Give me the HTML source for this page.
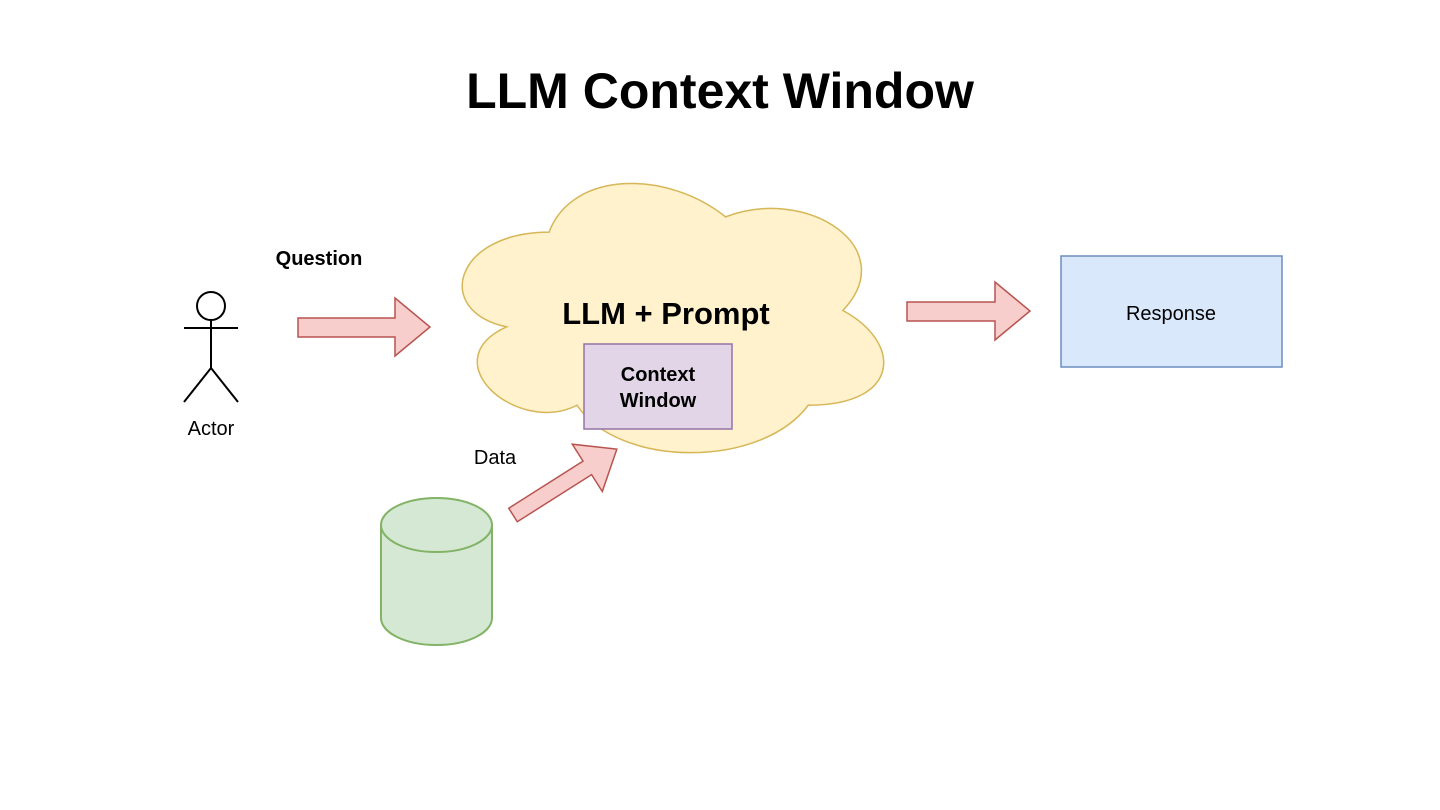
<!DOCTYPE html>
<html><head><meta charset="utf-8"><style>body{margin:0;background:#fff}svg{display:block}</style></head>
<body>
<svg width="1440" height="810" xmlns="http://www.w3.org/2000/svg" font-family="Liberation Sans, Arial, sans-serif">
<rect width="1440" height="810" fill="#fff"/>
<text x="720" y="108" font-size="50" font-weight="bold" text-anchor="middle">LLM Context Window</text>
<!-- actor -->
<g stroke="#000" stroke-width="2" fill="none">
<circle cx="211" cy="306" r="14" fill="#fff"/>
<line x1="211" y1="320" x2="211" y2="368"/>
<line x1="184" y1="328" x2="238" y2="328"/>
<line x1="211" y1="368" x2="184" y2="402"/>
<line x1="211" y1="368" x2="238" y2="402"/>
</g>
<text x="211" y="435" font-size="20" text-anchor="middle">Actor</text>
<text x="319" y="265" font-size="20" font-weight="bold" text-anchor="middle">Question</text>
<!-- arrow 1 -->
<path d="M298 318 L395 318 L395 298 L430 327 L395 356 L395 337 L298 337 Z" fill="#f8cecc" stroke="#b85450" stroke-width="1.5"/>
<!-- cloud -->
<path transform="translate(672.5 317.5) scale(1.117 1.17) translate(-677.5 -323)" vector-effect="non-scaling-stroke" d="M567 250 C483 250 462 317 529 331 C462 360 538 424 592 398 C630 452 757 452 799 398 C883 398 883 344 830 317 C883 264 799 210 725 237 C673 197 588 197 567 250 Z" fill="#fff2cc" stroke="#d6b656" stroke-width="1.5"/>
<text x="666" y="324" font-size="31" font-weight="bold" text-anchor="middle">LLM + Prompt</text>
<rect x="584" y="344" width="148" height="85" fill="#e1d5e7" stroke="#9673a6" stroke-width="1.5"/>
<text x="658" y="381" font-size="20" font-weight="bold" text-anchor="middle">Context</text>
<text x="658" y="407" font-size="20" font-weight="bold" text-anchor="middle">Window</text>
<!-- arrow 2 -->
<path d="M907 302 L995 302 L995 282 L1030 311 L995 340 L995 321 L907 321 Z" fill="#f8cecc" stroke="#b85450" stroke-width="1.5"/>
<rect x="1061" y="256" width="221" height="111" fill="#dae8fc" stroke="#6c8ebf" stroke-width="1.5"/>
<text x="1171" y="320" font-size="20" text-anchor="middle">Response</text>
<!-- data arrow -->
<text x="495" y="464" font-size="20" text-anchor="middle">Data</text>
<g transform="translate(513 515) rotate(-32.4)">
<path d="M0 -8 L88 -8 L88 -28 L123 0 L88 28 L88 8 L0 8 Z" fill="#f8cecc" stroke="#b85450" stroke-width="1.5"/>
</g>
<!-- cylinder -->
<path d="M381 525 A55.5 27 0 0 1 492 525 L492 618 A55.5 27 0 0 1 381 618 Z" fill="#d5e8d4" stroke="#82b366" stroke-width="2"/>
<path d="M381 525 A55.5 27 0 0 0 492 525" fill="none" stroke="#82b366" stroke-width="2"/>
</svg>
</body></html>
